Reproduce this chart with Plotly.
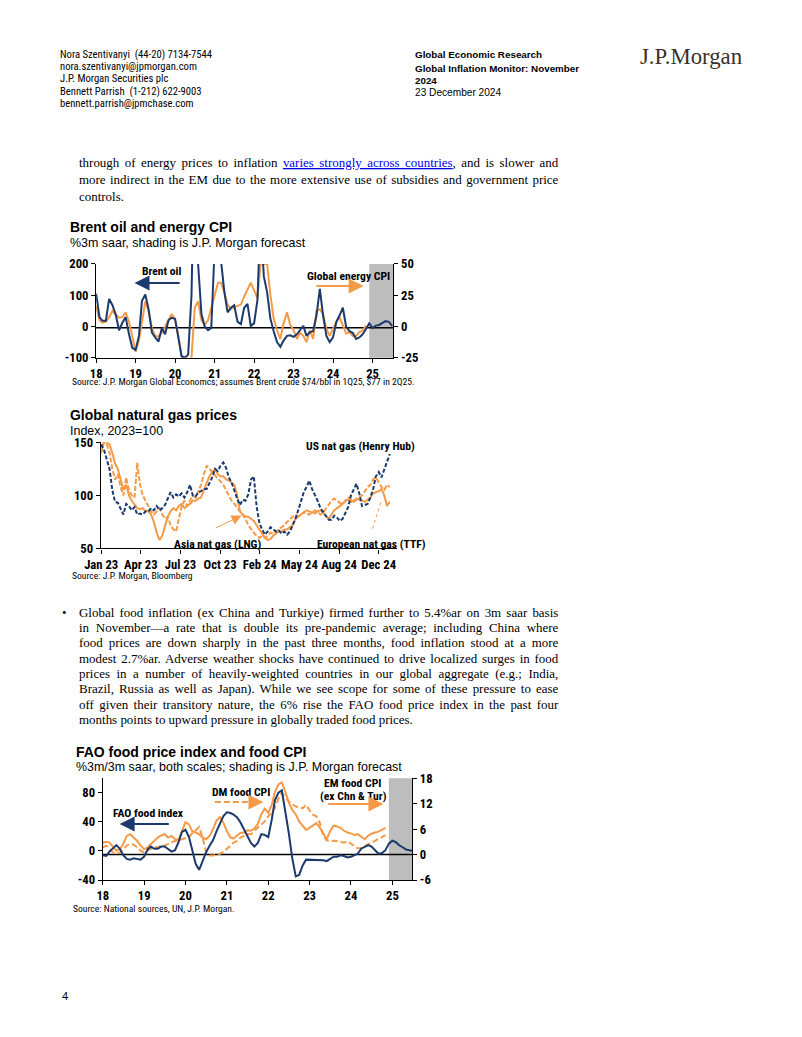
import json
import pandas as pd
import plotly.graph_objects as go

W, H = 802, 1037
SANS = "Liberation Sans, Arial, sans-serif"
NARROW = "Roboto Condensed, Liberation Sans, Arial, sans-serif"
SERIF = "Liberation Serif, Times New Roman, serif"
NAVY = "#1c3a6e"
ORANGE = "#f59a46"
GRAY = "#bdbdbd"

# ---------------- data ----------------
months = pd.date_range("2018-01-01", periods=91, freq="MS")
year_ticks = pd.date_range("2018-01-01", periods=8, freq="YS")
year_labels = ["18", "19", "20", "21", "22", "23", "24", "25"]

brent = [105, 30, 18, 18, 88, 68, 38, -12, 12, 30, -25, -68,
         -75, -30, 82, 102, 55, -20, -35, -48, -5, -25, 20, 28,
         25, -45, -95, -100, -90, 100, 600, 200, 40, 0, -12, -5,
         250, 300, 200, 110, 45, 60, 68, 15, 8, 60, 72, 2,
         10, 85, 350, 160, 110, 25, -15, -50, -65, -45, -30, -28,
         -33, -25, -12, 2, -30, -18, -15, 35, 120, 35, -30, -50,
         -35, 15, 35, 60, 0, -15, -20, -40, -35, -25, -8, 10,
         -5, 3, 5, 12, 17, 15, 2]
energy = [16.3, 5, 3, 3.8, 7.5, 12.5, 9.5, 7, 7.5, 11.3, 3.8, -7.5,
          -20, -11.3, 3.8, 20, 12.5, -1.3, -7.5, -8, -5, 0, 5, 10,
          5.5, -7.5, -23.8, -26.3, -37.5, -25, 15, 20, 5, 1.3, 5, 15,
          25, 35, 35, 27.5, 17.5, 13.8, 15.5, 16.5, 17.5, 23.8, 30, 35,
          28.8, 22.5, 50, 50, 50, 25, 6.3, -3, -10, 2.5, 11.3, 1.3,
          -3, -10, -5, -7.5, -12.5, -3, -10, 12.5, 13.8, 10, -2, -7.5,
          -2, 3.8, 7.5, 0, -5.5, -4.5, -7.5, -7.5, -4.5, -3, 0.8]

gas_dates = pd.date_range("2023-01-02", periods=105, freq="7D")
gas_tickvals = pd.date_range("2023-01-02", periods=8, freq="100D")
gas_ticklabels = ["Jan 23", "Apr 23", "Jul 23", "Oct 23", "Feb 24", "May 24", "Aug 24", "Dec 24"]
us_gas = [148, 143, 134, 125, 105, 94, 93, 88, 82, 92,
          90, 86, 89, 82, 83, 82, 85, 85, 88, 86,
          90, 86, 88, 91, 97, 103, 98, 101, 99, 102,
          98, 103, 110, 100, 99, 103, 104, 106, 106, 111,
          117, 125, 123, 128, 131, 126, 117, 112, 104, 97,
          91, 96, 95, 101, 115, 118, 90, 74, 68, 63,
          66, 70, 68, 66, 67, 64, 66, 63, 66, 72,
          78, 86, 95, 103, 108, 114, 106, 101, 95, 88,
          84, 81, 77, 77, 81, 79, 76, 78, 84, 89,
          100, 106, 111, 102, 90, 91, 92, 98, 106, 118,
          122, 117, 124, 131, 139]
asia_lng = [145, 150, 150, 148, 140, 130, 125, 115, 105, 110,
            100, 95, 92, 88, 87, 88, 85, 85, 82, 75,
            65, 58, 62, 72, 80, 85, 88, 86, 90, 92,
            88, 90, 92, 95, 95, 97, 98, 105, 112, 118,
            122, 125, 120, 118, 118, 115, 114, 112, 110, 100,
            85, 82, 80, 80, 78, 76, 72, 68, 64, 60,
            58, 59, 62, 64, 66, 66, 68, 68, 70, 72,
            78, 80, 82, 84, 86, 85, 84, 83, 85, 86,
            84, 80, 78, 82, 86, 88, 90, 92, 95, 96,
            94, 95, 97, 96, 95, 94, 96, 98, 102, 103,
            104, 106, 100, 90, 94]
eu_ttf = [140, 150, 148, 140, 125, 115, 120, 108, 100, 117,
          105, 100, 98, 131, 110, 100, 95, 90, 85, 82,
          85, 88, 82, 78, 80, 72, 68, 66, 78, 90,
          95, 90, 95, 100, 98, 105, 110, 120, 128, 125,
          122, 118, 115, 112, 110, 105, 100, 95, 92, 88,
          85, 82, 78, 72, 68, 65, 62, 60, 62, 60,
          62, 65, 64, 66, 68, 70, 72, 75, 78, 80,
          82, 80, 82, 84, 83, 82, 84, 86, 85, 82,
          84, 88, 92, 95, 97, 95, 93, 92, 95, 98,
          96, 94, 96, 98, 100, 104, 108, 110, 115, 117,
          112, 108, 105, 110, 108]

fao = [-6, -7, -1, 3, 8, 3, -6, -11, -12, -10, -11, -12,
       -8, 2, 6, 3, 3, 6, 6, 3, -1, 1, 12, 26,
       29, 19, 1, -18, -26, -14, -2, 7, 15, 27, 38, 48,
       53, 52, 50, 46, 39, 30, 20, 11, 6, 11, 23, 22,
       19, 43, 70, 80, 83, 55, 25, -10, -35, -33, -20, -12,
       -12, -13, -12, -13, -13, -14, -11, -8, -8, -6, -7, -9,
       -8, -6, -4, 3, 6, 8, 6, 1, -4, -3, 1, 10,
       14, 12, 8, 5, 2, 1, 0]
em_food = [2.8, 3.0, 2.8, 1.7, 0.9, 1.3, 2.5, 4.4, 4.8, 4.0, 3.2, 2.1,
           1.3, 1.7, 2.5, 3.2, 4.0, 4.5, 4.8, 4.0, 4.4, 3.6, 3.5, 5.5,
           7.6, 7.1, 5.5, 5.2, 4.8, 4.0, 3.6, 4.4, 6.0, 8.0, 8.8, 7.5,
           5.5, 4.0, 3.8, 4.5, 5.1, 5.2, 5.7, 5.6, 6.2, 7.2, 9.5, 10.8,
           9.8, 11.7, 14.8, 16.5, 17.0, 14.8, 12.3, 10.5, 9.5, 7.8, 6.7, 5.8,
           6.3, 6.8, 7.4, 6.4, 5.0, 3.6, 5.5, 6.8, 6.6, 6.3, 5.6, 5.2,
           5.0, 4.6, 4.8, 4.2, 3.6, 4.4, 4.9, 5.2, 5.4, 5.8, 6.3]
dm_food = [1.7, 2.1, 1.3, 0.5, 0.2, 0.5, 1.3, 2.1, 2.5, 2.3, 1.7, 0.9,
           0.5, 1.0, 1.5, 1.8, 1.7, 2.1, 2.1, 2.6, 2.9, 3.2, 3.3, 3.6,
           3.8, 4.1, 5.0, 5.8, 6.5, 4.0, 0.5, -0.2, -0.2, 0.0, 0.2, 0.6,
           1.3, 2.0, 2.8, 3.2, 4.0, 4.4, 4.8, 4.8, 5.5, 6.3, 7.1, 7.8,
           9.0, 9.8, 11.0, 13.2, 14.5, 13.5, 12.5, 11.8, 11.3, 11.0, 10.9, 11.7,
           10.4, 9.4, 9.0, 7.5, 4.5, 3.3, 3.3, 3.3, 3.2, 3.0, 2.8, 3.1,
           2.5, 1.9, 1.5, 1.5, 2.0, 2.4, 2.8, 3.2, 3.6, 4.1, 4.6]

forecast_start = "2024-12-01"

# The photographed page comes out slightly scaled/offset; place things so that
# they land on the reference's pixel positions.
SC, OX, OY = 0.987, 13.5, 6.7


def PX(x):
    return ((x - OX) / SC) / W


def PY(y):
    return 1 - ((y - OY) / SC) / H


def FS(s):
    return s / SC


TICKFONT = dict(family=NARROW, size=FS(12.5), color="black", weight=700)


def xaxis(domain, anchor, rng, tv, tt):
    return dict(domain=domain, anchor=anchor, type="date", range=rng,
                tickmode="array", tickvals=list(tv), ticktext=tt, tickangle=0,
                ticks="outside", ticklen=4, tickcolor="black", tickwidth=1,
                showline=True, linecolor="black", linewidth=1.3,
                showgrid=False, zeroline=False, tickfont=TICKFONT, fixedrange=True)


def yaxis(domain, anchor, rng, tv, side="left", overlaying=None):
    d = dict(domain=domain, anchor=anchor, range=rng, tickmode="array",
             tickvals=tv, ticktext=[str(v) for v in tv],
             ticks="outside", ticklen=4, tickcolor="black", tickwidth=1,
             showline=True, linecolor="black", linewidth=1.3, side=side,
             showgrid=False, zeroline=False, tickfont=TICKFONT, fixedrange=True)
    if overlaying:
        d["overlaying"] = overlaying
    return d


def text(x, y, s, size, family=SANS, color="black", xanchor="left", **fontkw):
    f = dict(family=family, size=FS(size), color=color)
    f.update(fontkw)
    if xanchor == "left":
        x -= 5
    elif xanchor == "right":
        x += 5
    return dict(xref="paper", yref="paper", x=PX(x), y=PY(y), text=s, align="left",
                showarrow=False, xanchor=xanchor, yanchor="middle", font=f)


def arrow(tip, tail, color, width, size=1.5):
    return dict(xref="paper", yref="paper", x=PX(tip[0]), y=PY(tip[1]),
                ax=(tail[0] - tip[0]) / SC, ay=(tail[1] - tip[1]) / SC, text="",
                showarrow=True, arrowhead=2, arrowsize=size, arrowwidth=width,
                arrowcolor=color)


fig = go.Figure()
fig.add_trace(go.Scatter(x=months[:len(energy)], y=energy, mode="lines",
                         line=dict(color=ORANGE, width=2), xaxis="x", yaxis="y"))
fig.add_trace(go.Scatter(x=months, y=brent, mode="lines",
                         line=dict(color=NAVY, width=2), xaxis="x", yaxis="y2"))
fig.add_trace(go.Scatter(x=gas_dates, y=asia_lng, mode="lines",
                         line=dict(color=ORANGE, width=2), xaxis="x2", yaxis="y3"))
fig.add_trace(go.Scatter(x=gas_dates, y=eu_ttf, mode="lines",
                         line=dict(color=ORANGE, width=2, dash="5px,2px"), xaxis="x2", yaxis="y3"))
fig.add_trace(go.Scatter(x=gas_dates, y=us_gas, mode="lines",
                         line=dict(color=NAVY, width=2, dash="4px,2px"), xaxis="x2", yaxis="y3"))
fig.add_trace(go.Scatter(x=months[:len(dm_food)], y=dm_food, mode="lines",
                         line=dict(color=ORANGE, width=2, dash="6px,3px"), xaxis="x3", yaxis="y4"))
fig.add_trace(go.Scatter(x=months[:len(em_food)], y=em_food, mode="lines",
                         line=dict(color=ORANGE, width=2), xaxis="x3", yaxis="y4"))
fig.add_trace(go.Scatter(x=months, y=fao, mode="lines",
                         line=dict(color=NAVY, width=2), xaxis="x3", yaxis="y5"))

c1x = [PX(93.3), PX(393)]
c1y = [PY(357), PY(263)]
c2x = [PX(98), PX(397)]
c2y = [PY(548), PY(441.7)]
c3x = [PX(100), PX(412)]
c3y = [PY(880), PY(778)]

shapes = [
    dict(type="rect", xref="x", yref="y domain", x0=forecast_start, x1="2025-08-01",
         y0=0, y1=1, fillcolor=GRAY, line=dict(width=0), layer="below"),
    dict(type="line", xref="x domain", yref="y", x0=0, x1=1, y0=-1, y1=-1,
         line=dict(color="black", width=1.5), layer="below"),
    dict(type="rect", xref="x3", yref="y4 domain", x0=forecast_start, x1="2025-08-01",
         y0=0, y1=1, fillcolor=GRAY, line=dict(width=0), layer="below"),
    dict(type="line", xref="x3 domain", yref="y4", x0=0, x1=1, y0=0, y1=0,
         line=dict(color="black", width=1.5), layer="below"),
    dict(type="line", xref="paper", yref="paper", x0=PX(213), x1=PX(250), y0=PY(802), y1=PY(802),
         line=dict(color=ORANGE, width=2, dash="6px,3px")),
    dict(type="line", xref="paper", yref="paper", x0=PX(372), x1=PX(381), y0=PY(528), y1=PY(500),
         line=dict(color=ORANGE, width=1, dash="dot")),
]

ann = []
justify = {}
BODY = 12.8
LINE_W = 479.3


def body_line(y, s, just=True):
    if just:
        justify[str(len(ann))] = LINE_W
    ann.append(text(79, y, s, BODY, family=SERIF))


for y, s in [(53, "Nora Szentivanyi  (44-20) 7134-7544"),
             (65, "nora.szentivanyi@jpmorgan.com"),
             (77, "J.P. Morgan Securities plc"),
             (90, "Bennett Parrish  (1-212) 622-9003"),
             (102, "bennett.parrish@jpmchase.com")]:
    ann.append(text(60, y, s, 10.5, family=NARROW))
ann.append(text(418, 53, "<b>Global Economic Research</b>", 9.7))
ann.append(text(418, 67, "<b>Global Inflation Monitor: November</b>", 9.7))
ann.append(text(418, 79, "<b>2024</b>", 9.7))
ann.append(text(418, 91, "23 December 2024", 10))
ann.append(text(645, 55, "J.P.Morgan", 22.5, family=SERIF, color="#3a2f29"))

body_line(161, "through of energy prices to inflation "
               "<span style='color:#0000ee;text-decoration:underline'>varies strongly across countries</span>"
               ", and is slower and")
body_line(178, "more indirect in the EM due to the more extensive use of subsidies and government price")
body_line(195, "controls.", just=False)

ann.append(text(70, 226, "<b>Brent oil and energy CPI</b>", 13.8))
ann.append(text(70, 242, "%3m saar, shading is J.P. Morgan forecast", 12.3))
ann.append(text(72, 381, "Source: J.P. Morgan Global Economcs; assumes Brent crude $74/bbl in 1Q25, $77 in 2Q25.", 9.5, family=NARROW))
ann.append(text(160, 270, "<b>Brent oil</b>", 11.5, family=NARROW, xanchor="center"))
ann.append(text(348, 275, "<b>Global energy CPI</b>", 11.5, family=NARROW, xanchor="center"))
ann.append(arrow((132, 282), (178, 282), NAVY, 2))
ann.append(arrow((363, 285), (315, 285), ORANGE, 2))

ann.append(text(70, 414, "<b>Global natural gas prices</b>", 13.8))
ann.append(text(70, 430, "Index, 2023=100", 12.3))
ann.append(text(72, 575, "Source: J.P. Morgan, Bloomberg", 9.5, family=NARROW))
ann.append(text(360, 445, "<b>US nat gas (Henry Hub)</b>", 11.5, family=NARROW, xanchor="center"))
ann.append(text(216, 543, "<b>Asia nat gas (LNG)</b>", 11.5, family=NARROW, xanchor="center"))
ann.append(text(371, 543, "<b>European nat gas (TTF)</b>", 11.5, family=NARROW, xanchor="center"))
ann.append(arrow((240, 515), (213, 528), ORANGE, 1, size=2))

ann.append(text(62, 612, "\u2022", BODY, family=SERIF))
para2 = ["Global food inflation (ex China and Turkiye) firmed further to 5.4%ar on 3m saar basis",
         "in November\u2014a rate that is double its pre-pandemic average; including China where",
         "food prices are down sharply in the past three months, food inflation stood at a more",
         "modest 2.7%ar. Adverse weather shocks have continued to drive localized surges in food",
         "prices in a number of heavily-weighted countries in our global aggregate (e.g.; India,",
         "Brazil, Russia as well as Japan). While we see scope for some of these pressure to ease",
         "off given their transitory nature, the 6% rise the FAO food price index in the past four",
         "months points to upward pressure in globally traded food prices."]
for k, s in enumerate(para2):
    body_line(612 + 15.3 * k, s, just=(k < len(para2) - 1))

ann.append(text(76, 752, "<b>FAO food price index and food CPI</b>", 13.8))
ann.append(text(76, 767, "%3m/3m saar, both scales; shading is J.P. Morgan forecast", 12.3))
ann.append(text(73, 909, "Source: National sources, UN, J.P. Morgan.", 9.5, family=NARROW))
ann.append(text(239, 792, "<b>DM food CPI</b>", 11.5, family=NARROW, xanchor="center"))
ann.append(text(146, 813, "<b>FAO food index</b>", 11.5, family=NARROW, xanchor="center"))
ann.append(text(352, 783, "<b>EM food CPI</b>", 11.5, family=NARROW, xanchor="center"))
ann.append(text(353, 796, "<b>(ex Chn & Tur)</b>", 11.5, family=NARROW, xanchor="center"))
ann.append(arrow((117, 824), (167, 824), NAVY, 2))
ann.append(arrow((383, 804), (327, 804), ORANGE, 2))
ann.append(arrow((262, 802), (250, 802), ORANGE, 2))

ann.append(text(62, 996, "4", 11))

fig.update_layout(
    width=W, height=H, autosize=False,
    margin=dict(l=0, r=0, t=0, b=0),
    paper_bgcolor="white", plot_bgcolor="white",
    showlegend=False,
    xaxis=xaxis(c1x, "y", ["2018-01-01", "2025-07-12"], year_ticks, year_labels),
    yaxis=yaxis(c1y, "x", [-25, 50], [-25, 0, 25, 50], side="right"),
    yaxis2=yaxis(c1y, "x", [-100, 200], [-100, 0, 100, 200], side="left", overlaying="y"),
    xaxis2=xaxis(c2x, "y3", ["2023-01-01", "2025-01-18"], gas_tickvals, gas_ticklabels),
    yaxis3=yaxis(c2y, "x2", [50, 150], [50, 100, 150]),
    xaxis3=xaxis(c3x, "y4", ["2018-01-01", "2025-06-25"], year_ticks, year_labels),
    yaxis4=yaxis(c3y, "x3", [-6, 18], [-6, 0, 6, 12, 18], side="right"),
    yaxis5=yaxis(c3y, "x3", [-40, 100], [-40, 0, 40, 80], side="left", overlaying="y4"),
    shapes=shapes,
    annotations=ann,
)

post = ("document.documentElement.style.margin='0';"
        "document.documentElement.style.overflow='hidden';"
        "document.body.style.margin='0';document.body.style.padding='0';"
        "document.body.style.overflow='hidden';"
        "var gd=document.getElementById('{plot_id}');"
        "gd.style.position='fixed';gd.style.left='0px';gd.style.top='0px';"
        "var J=" + json.dumps(justify) + ";"
        "Object.keys(J).forEach(function(k){"
        " var t=gd.querySelector('g.annotation[data-index=\"'+k+'\"] text.annotation-text');"
        " if(!t) return;"
        " var w=t.getComputedTextLength();"
        " var n=(t.textContent.match(/ /g)||[]).length;"
        " if(n>0 && J[k]>w){ t.style.wordSpacing=((J[k]-w)/n)+'px'; }"
        "});")
fig.write_html("out.html", config={"displayModeBar": False, "responsive": False},
               post_script=post)
